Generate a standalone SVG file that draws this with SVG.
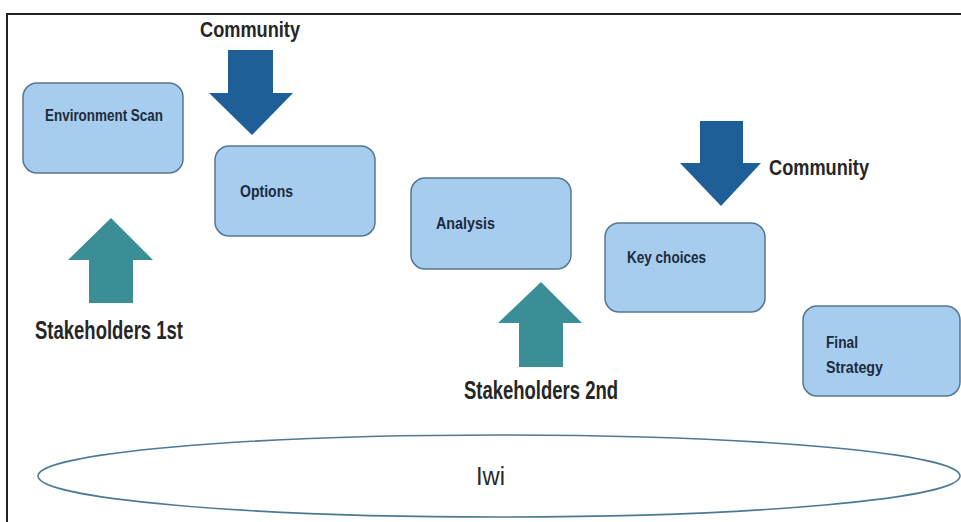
<svg xmlns="http://www.w3.org/2000/svg" width="961" height="522" viewBox="0 0 961 522">
<defs>
<style>
.box{fill:#a7cdee;stroke:#557790;stroke-width:1.5}
.bt{font-family:"Liberation Sans Narrow","Liberation Sans",Arial,sans-serif;font-weight:bold;font-size:16px;fill:#1c2a3e}
.lbl{font-family:"Liberation Sans Narrow","Liberation Sans",Arial,sans-serif;font-weight:bold;fill:#262626}
.comm{fill:#1e5f97}
.stake{fill:#3b8d96}
</style>
</defs>
<rect x="0" y="0" width="961" height="522" fill="#ffffff"/>
<g id="frame">
<path d="M7,522 V14 H961" fill="none" stroke="#222222" stroke-width="2"/>
</g>
<g id="iwi">
<ellipse cx="499" cy="476" rx="461" ry="41" fill="none" stroke="#4c7a95" stroke-width="1.6"/>
<text x="476" y="485" textLength="29" lengthAdjust="spacingAndGlyphs" font-family="'Liberation Sans Narrow','Liberation Sans',Arial,sans-serif" font-size="26" fill="#2a2a2a">Iwi</text>
</g>
<g id="environment-scan">
<rect class="box" x="23" y="83" width="160" height="90" rx="14"/>
<text class="bt" x="45" y="121" textLength="118" lengthAdjust="spacingAndGlyphs">Environment Scan</text>
</g>
<g id="options">
<rect class="box" x="215" y="146" width="160" height="90" rx="14"/>
<text class="bt" x="240" y="197" textLength="53" lengthAdjust="spacingAndGlyphs">Options</text>
</g>
<g id="analysis">
<rect class="box" x="411" y="178" width="160" height="91" rx="14"/>
<text class="bt" x="436" y="229" textLength="59" lengthAdjust="spacingAndGlyphs">Analysis</text>
</g>
<g id="key-choices">
<rect class="box" x="605" y="223" width="160" height="89" rx="14"/>
<text class="bt" x="627" y="263" textLength="79" lengthAdjust="spacingAndGlyphs">Key choices</text>
</g>
<g id="final-strategy">
<rect class="box" x="803" y="306" width="157" height="90" rx="14"/>
<text class="bt" x="826" y="348" textLength="32" lengthAdjust="spacingAndGlyphs">Final</text>
<text class="bt" x="826" y="373" textLength="57" lengthAdjust="spacingAndGlyphs">Strategy</text>
</g>
<g id="connectors">
<polygon class="comm" points="228,50 273,50 273,93 293,93 252,135 209,93 228,93"/>
<polygon class="comm" points="700,121 743,121 743,163 761,163 721,206 680,163 700,163"/>
<polygon class="stake" points="111,218 153,260 133,260 133,303 89,303 89,260 68,260"/>
<polygon class="stake" points="541,282 582,323 563,323 563,367 519,367 519,323 498,323"/>
</g>
<g id="community-1">
<text class="lbl" x="200" y="37" font-size="22" textLength="100" lengthAdjust="spacingAndGlyphs">Community</text>
</g>
<g id="community-2">
<text class="lbl" x="769" y="175" font-size="22" textLength="100" lengthAdjust="spacingAndGlyphs">Community</text>
</g>
<g id="stakeholders-1st">
<text class="lbl" x="35" y="339" font-size="26" textLength="148" lengthAdjust="spacingAndGlyphs">Stakeholders 1st</text>
</g>
<g id="stakeholders-2nd">
<text class="lbl" x="464" y="399" font-size="26" textLength="154" lengthAdjust="spacingAndGlyphs">Stakeholders 2nd</text>
</g>
</svg>
